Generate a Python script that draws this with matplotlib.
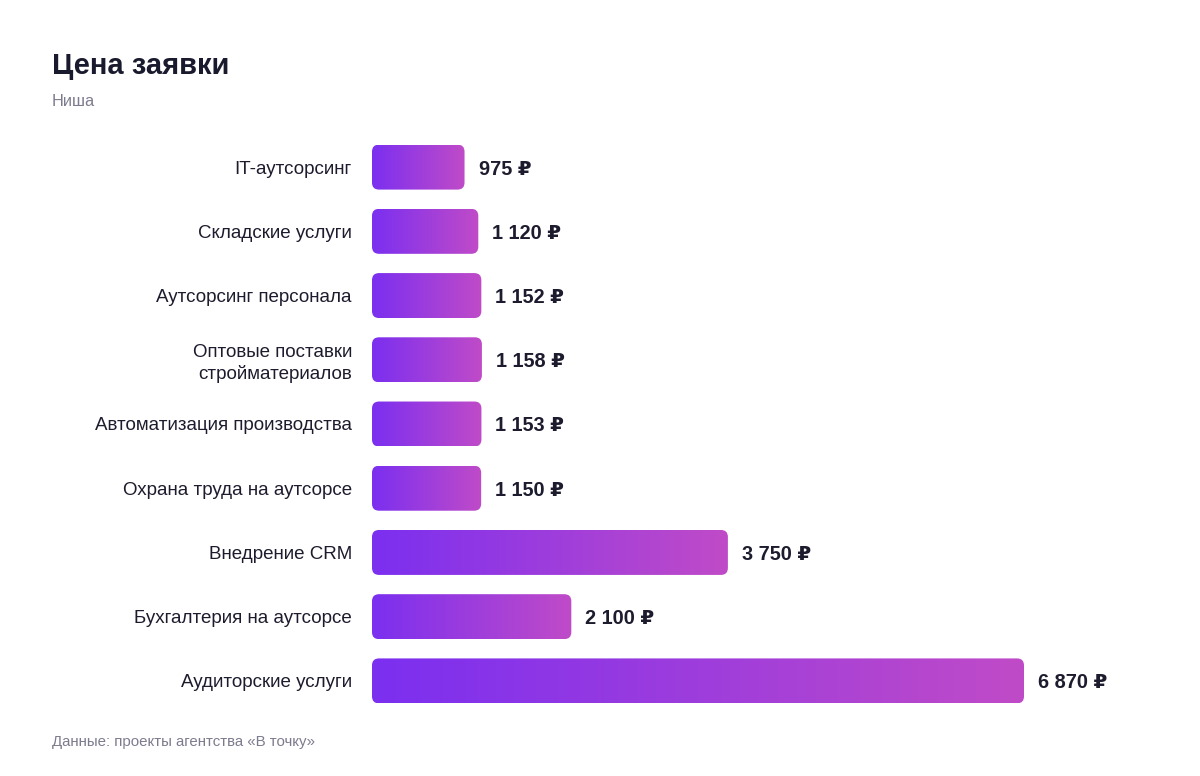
import numpy as np
import matplotlib
matplotlib.use("Agg")
import matplotlib.pyplot as plt
from matplotlib.patches import FancyBboxPatch
from matplotlib.colors import LinearSegmentedColormap

plt.rcParams['font.family'] = ['Liberation Sans', 'DejaVu Sans']

categories = ["IT-аутсорсинг", "Складские услуги", "Аутсорсинг персонала",
              "Оптовые поставки\nстройматериалов", "Автоматизация производства",
              "Охрана труда на аутсорсе", "Внедрение CRM",
              "Бухгалтерия на аутсорсе", "Аудиторские услуги"]
values = [975, 1120, 1152, 1158, 1153, 1150, 3750, 2100, 6870]
value_labels = ["975 ₽", "1 120 ₽", "1 152 ₽", "1 158 ₽", "1 153 ₽",
                "1 150 ₽", "3 750 ₽", "2 100 ₽", "6 870 ₽"]

title = "Цена заявки"
subtitle = "Ниша"
footer = "Данные: проекты агентства «В точку»"

W, H = 1200, 776
fig = plt.figure(figsize=(W / 100, H / 100), dpi=100)
fig.patch.set_facecolor("white")

ax_left, ax_right = 372, 1150
ax_top, ax_bottom = 135, 713
ax = fig.add_axes([ax_left / W, 1 - ax_bottom / H, (ax_right - ax_left) / W, (ax_bottom - ax_top) / H])

px_per_unit = (1024 - 372) / 6870.0
xmax = (ax_right - ax_left) / px_per_unit
n = len(categories)
ax.set_xlim(0, xmax)
ax.set_ylim(n - 0.5, -0.5)
for s in ax.spines.values():
    s.set_visible(False)
ax.set_xticks([])
ax.set_yticks(range(n))
ax.set_yticklabels(categories, fontsize=13.5, color="#1c1c2e", linespacing=1.3)
ax.tick_params(axis='y', length=0, pad=14.4)
for t in ax.get_yticklabels():
    t.set_horizontalalignment('right')

cmap = LinearSegmentedColormap.from_list("g", ["#7B2FF0", "#C04BC8"])
grad = np.linspace(0, 1, 256).reshape(1, -1)

bar_h = 0.70
row_px = (ax_bottom - ax_top) / n
x_unit_per_px = 1 / px_per_unit
y_unit_per_px = 1 / row_px
radius_px = 7
aspect = y_unit_per_px / x_unit_per_px

bars = ax.barh(range(n), values, height=bar_h, color="none")
for i, (bar, v, lab) in enumerate(zip(bars, values, value_labels)):
    x0, y0 = bar.get_x(), bar.get_y()
    w, h = bar.get_width(), bar.get_height()
    patch = FancyBboxPatch((x0, y0), w, h,
                           boxstyle=f"round,pad=0,rounding_size={radius_px * x_unit_per_px}",
                           mutation_aspect=aspect, facecolor="none", edgecolor="none",
                           transform=ax.transData)
    ax.add_patch(patch)
    im = ax.imshow(grad, cmap=cmap, aspect='auto', extent=(x0, x0 + w, y0 + h, y0),
                   interpolation='bicubic', zorder=2)
    im.set_clip_path(patch)
    ax.text(x0 + w + 14 * x_unit_per_px, i + 2 * y_unit_per_px, lab, va='center', ha='left',
            fontsize=14.3, fontweight='bold', color="#1c1c2e")

ax.set_xlim(0, xmax)
ax.set_ylim(n - 0.5, -0.5)

fig.text(52 / W, 1 - 66 / H, title, fontsize=21, fontweight='bold', color="#1a1a2e",
         va='center', ha='left')
fig.text(52 / W, 1 - 102 / H, subtitle, fontsize=11.8, color="#7c7c8e", va='center', ha='left')
fig.text(52 / W, 1 - 742 / H, footer, fontsize=10.8, color="#7c7c8e", va='center', ha='left')

fig.savefig("out.png", dpi=100, facecolor="white")
